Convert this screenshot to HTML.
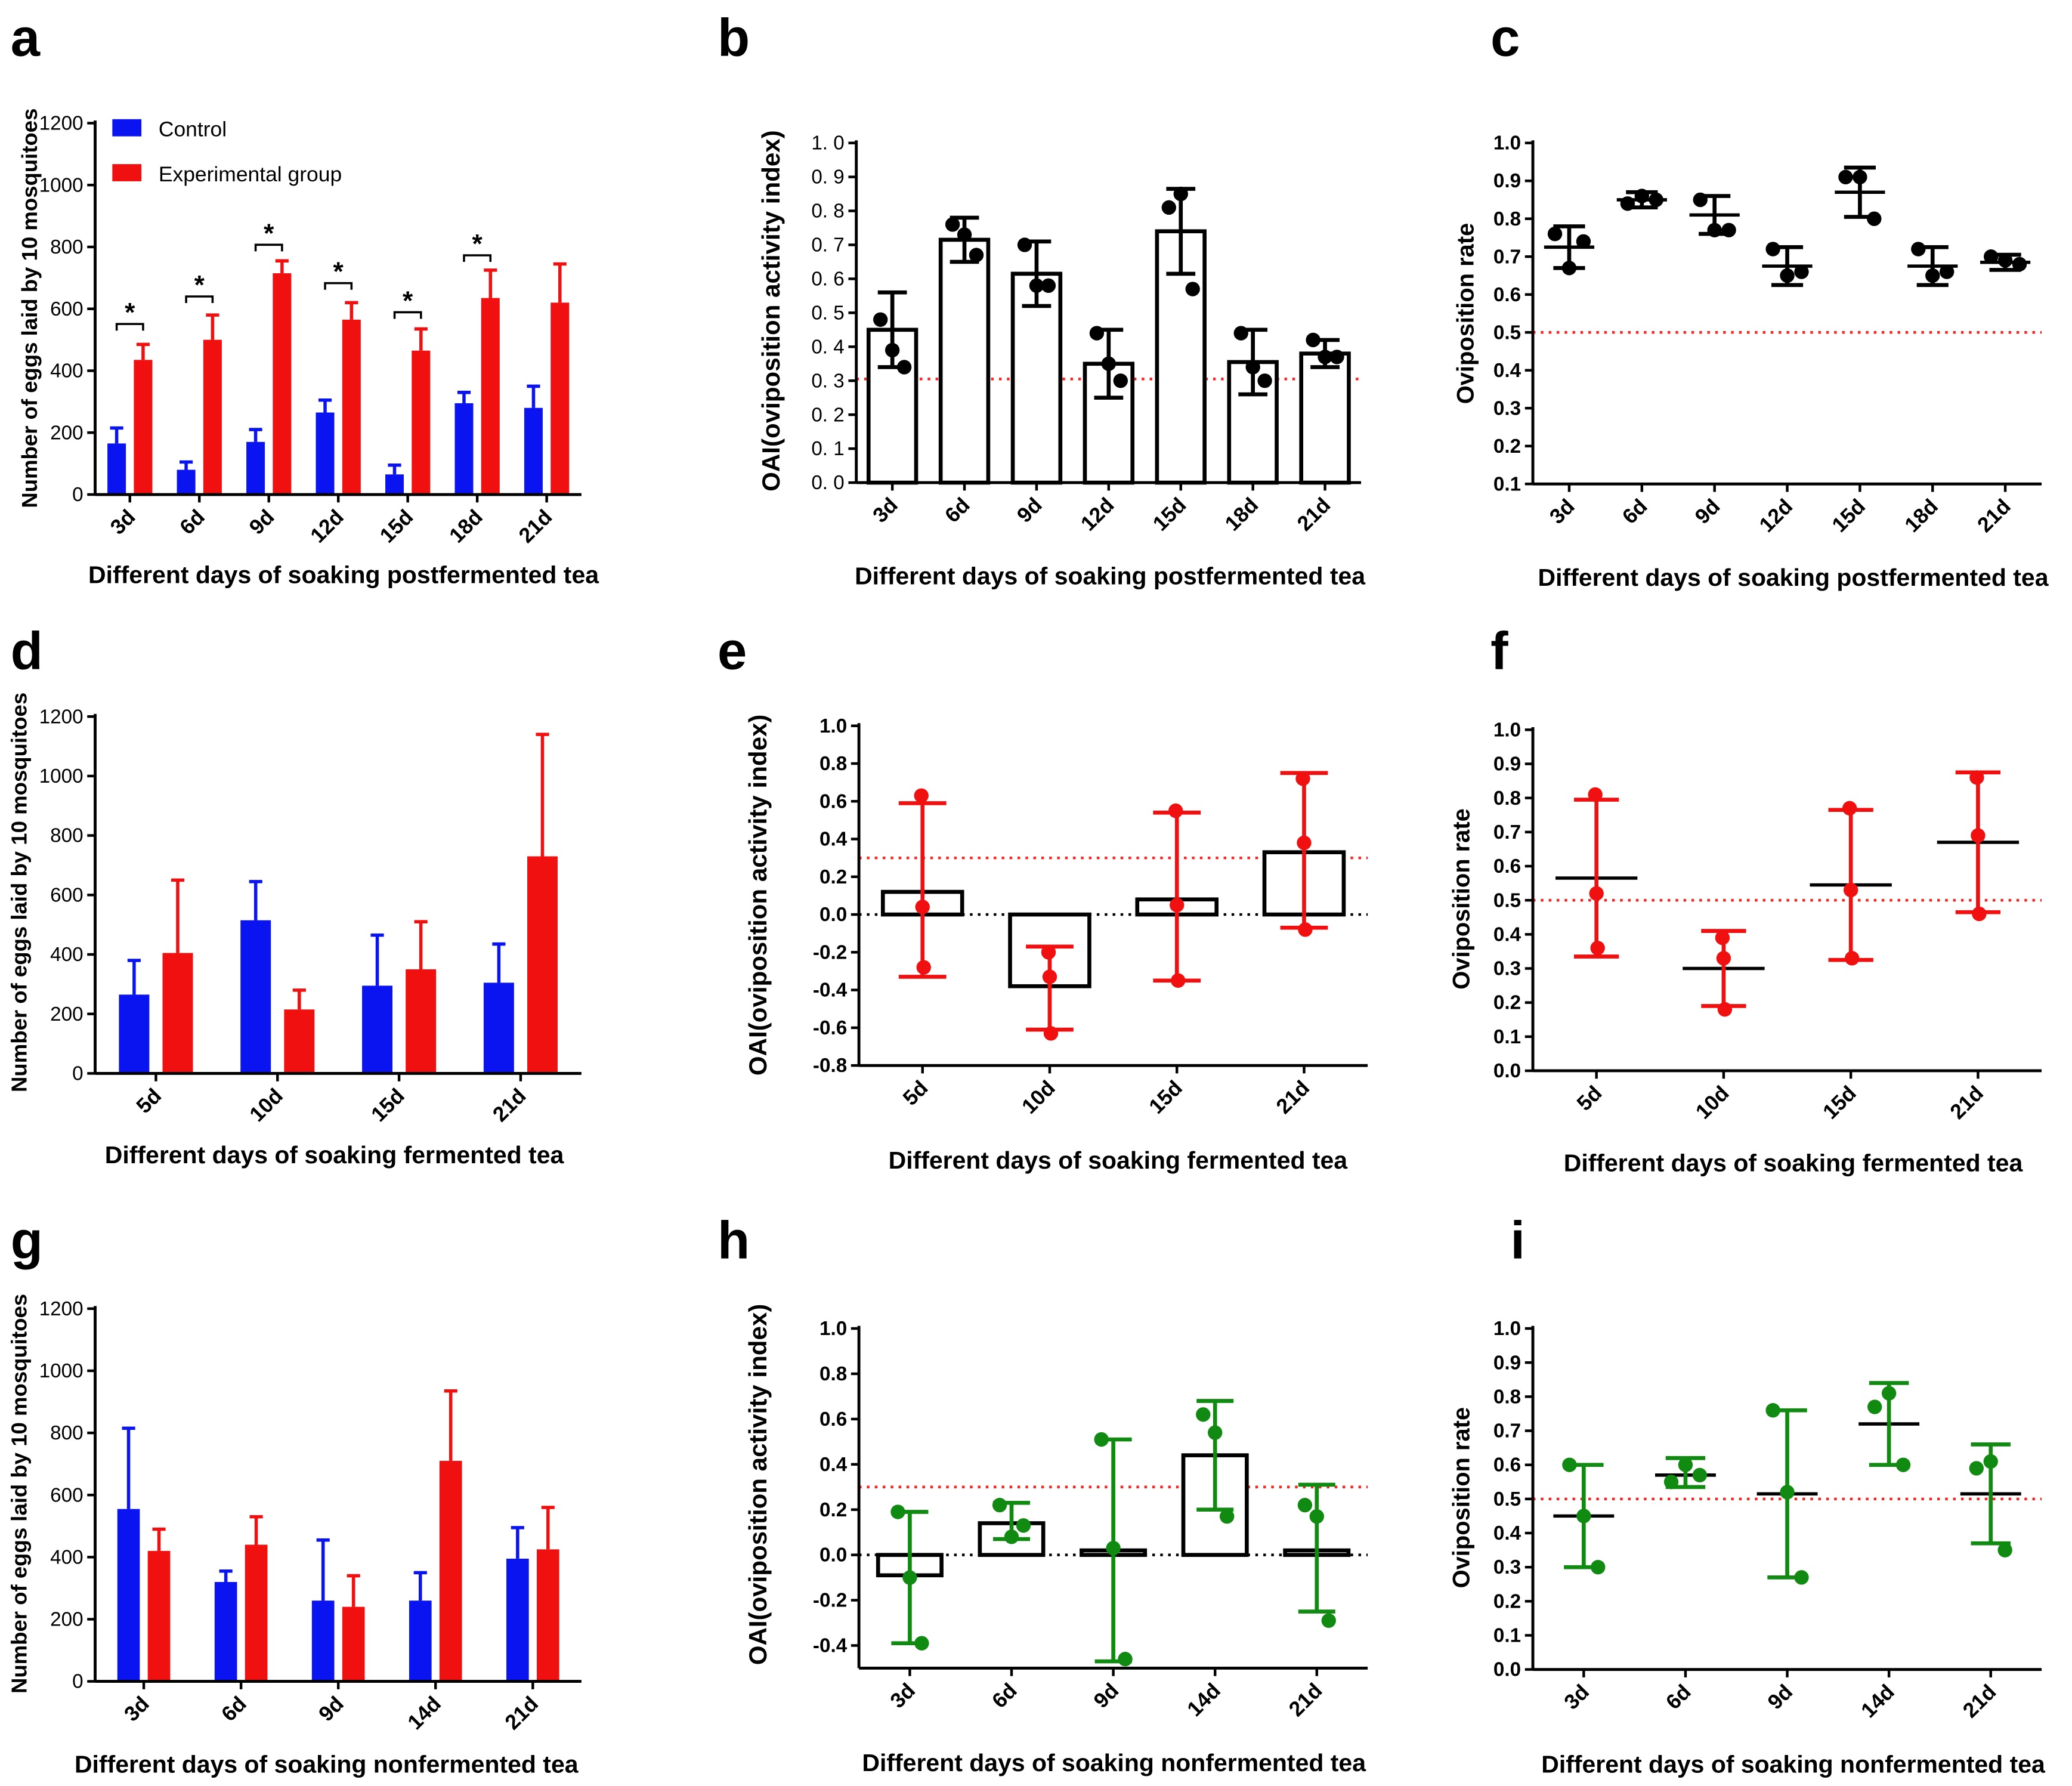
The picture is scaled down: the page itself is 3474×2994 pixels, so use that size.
<!DOCTYPE html>
<html><head><meta charset="utf-8">
<style>
html,body{margin:0;padding:0;background:#fff;}
svg{display:block;}
text{font-family:"Liberation Sans",Arial,sans-serif;}
</style></head>
<body>
<svg id="fig" width="3474" height="2994" viewBox="0 0 1568 1351" xmlns="http://www.w3.org/2000/svg"></svg>
<script>
// ---------- Panel a data ----------
const aCats=["3d","6d","9d","12d","15d","18d","21d"];
const aCtrl=[165,80,170,265,65,295,280];
const aCtrlErr=[215,105,210,305,95,330,350];
const aExp=[435,500,715,565,465,635,620];
const aExpErr=[485,580,755,620,535,725,745];
const aSig=[551,640,807,683,589,773];
const aTicks=[0,200,400,600,800,1000,1200];
// ---------- Panel d data ----------
const dCats=["5d","10d","15d","21d"];
const dCtrl=[265,515,295,305];
const dCtrlErr=[380,645,465,435];
const dExp=[405,215,350,730];
const dExpErr=[650,280,510,1140];
// ---------- Panel g data ----------
const gCats=["3d","6d","9d","14d","21d"];
const gCtrl=[555,320,260,260,395];
const gCtrlErr=[815,355,455,350,495];
const gExp=[420,440,240,710,425];
const gExpErr=[490,530,340,935,560];
// ---------- Panel b data ----------
const bCats=["3d","6d","9d","12d","15d","18d","21d"];
const bMean=[0.45,0.715,0.615,0.35,0.74,0.355,0.38];
const bHi=[0.56,0.78,0.71,0.45,0.865,0.45,0.42];
const bLo=[0.34,0.65,0.52,0.25,0.615,0.26,0.34];
const bPts=[[0.48,0.39,0.34],[0.76,0.73,0.67],[0.7,0.58,0.58],[0.44,0.35,0.3],[0.81,0.85,0.57],[0.44,0.34,0.3],[0.42,0.37,0.37]];
const bTicks=[0,0.1,0.2,0.3,0.4,0.5,0.6,0.7,0.8,0.9,1.0];
// ---------- Panel c data ----------
const cCats=["3d","6d","9d","12d","15d","18d","21d"];
const cMean=[0.725,0.85,0.81,0.675,0.87,0.675,0.685];
const cHi=[0.78,0.87,0.86,0.725,0.935,0.725,0.705];
const cLo=[0.67,0.83,0.76,0.625,0.805,0.625,0.665];
const cPts=[[0.76,0.67,0.74],[0.84,0.86,0.85],[0.85,0.77,0.77],[0.72,0.65,0.66],[0.91,0.91,0.8],[0.72,0.65,0.66],[0.7,0.69,0.68]];
const cTicks=[0.1,0.2,0.3,0.4,0.5,0.6,0.7,0.8,0.9,1.0];
// ---------- Panel e data ----------
const eCats=["5d","10d","15d","21d"];
const eMean=[0.12,-0.38,0.08,0.33];
const eHi=[0.59,-0.17,0.54,0.75];
const eLo=[-0.33,-0.61,-0.35,-0.07];
const ePts=[[0.63,0.04,-0.28],[-0.2,-0.33,-0.63],[0.55,0.05,-0.35],[0.72,0.38,-0.08]];
const eTicks=[-0.8,-0.6,-0.4,-0.2,0,0.2,0.4,0.6,0.8,1.0];
// ---------- Panel f data ----------
const fCats=["5d","10d","15d","21d"];
const fMean=[0.565,0.3,0.545,0.67];
const fHi=[0.795,0.41,0.765,0.875];
const fLo=[0.335,0.19,0.325,0.465];
const fPts=[[0.81,0.52,0.36],[0.39,0.33,0.18],[0.77,0.53,0.33],[0.86,0.69,0.46]];
const fTicks=[0,0.1,0.2,0.3,0.4,0.5,0.6,0.7,0.8,0.9,1.0];
// ---------- Panel h data ----------
const hCats=["3d","6d","9d","14d","21d"];
const hMean=[-0.09,0.14,0.02,0.44,0.02];
const hHi=[0.19,0.23,0.51,0.68,0.31];
const hLo=[-0.39,0.07,-0.47,0.2,-0.25];
const hPts=[[0.19,-0.1,-0.39],[0.22,0.08,0.13],[0.51,0.03,-0.46],[0.62,0.54,0.17],[0.22,0.17,-0.29]];
const hTicks=[-0.4,-0.2,0,0.2,0.4,0.6,0.8,1.0];
// ---------- Panel i data ----------
const iCats=["3d","6d","9d","14d","21d"];
const iMean=[0.45,0.57,0.515,0.72,0.515];
const iHi=[0.6,0.62,0.76,0.84,0.66];
const iLo=[0.3,0.535,0.27,0.6,0.37];
const iPts=[[0.6,0.45,0.3],[0.55,0.6,0.57],[0.76,0.52,0.27],[0.77,0.81,0.6],[0.59,0.61,0.35]];
const iTicks=[0,0.1,0.2,0.3,0.4,0.5,0.6,0.7,0.8,0.9,1.0];

const NS="http://www.w3.org/2000/svg";
const svg=document.getElementById('fig');
function mk(tag,attrs,parent,txt){const e=document.createElementNS(NS,tag);for(const k in attrs)e.setAttribute(k,attrs[k]);if(txt!==undefined)e.textContent=txt;(parent||svg).appendChild(e);return e;}
function scaleY(p){return v=>p.yBot-(v-p.vMin)/(p.vMax-p.vMin)*(p.yBot-p.yTop);}
function scaleX(p,n){const step=(p.x1-p.x0)/n;return i=>p.x0+step*(i+0.5);}

function axes(p,ticks,fmt,cats,xs,ys,g){
  const ax=mk('g',{},g);
  
  
  mk('line',{x1:p.x0,y1:p.yTop-2,x2:p.x0,y2:p.yBot,stroke:'#000','stroke-width':2.2},ax);
  mk('line',{x1:p.x0,y1:p.yBot,x2:p.x1,y2:p.yBot,stroke:'#000','stroke-width':2.2},ax);
  ticks.forEach(t=>{const y=ys(t);
    mk('line',{x1:p.x0-6,y1:y,x2:p.x0,y2:y,stroke:'#000','stroke-width':2},ax);
    const tl=mk('text',{x:p.x0-9,y:y+5,'text-anchor':'end','font-size':p.tfs||15,'font-weight':p.tfw||'normal'},ax,fmt(t));
    
    
  });
  cats.forEach((c,i)=>{const x=xs(i);
    mk('line',{x1:x,y1:p.yBot,x2:x,y2:p.yBot+6,stroke:'#000','stroke-width':2},ax);
    const tl=mk('text',{x:x+5,y:p.yBot+18,'text-anchor':'end','font-size':16,'font-weight':'bold',transform:`rotate(-45 ${x+5} ${p.yBot+18})`},ax,c);
    
    
  });
  const xt=mk('text',{x:p.xtx,y:p.xty,'text-anchor':'middle','font-size':18.5,'font-weight':'bold'},g,p.xtitle);
  
  
  const yt=mk('text',{x:p.ytx,y:p.yty,'text-anchor':'middle','font-size':p.ytfs||16.5,'font-weight':'bold',transform:`rotate(-90 ${p.ytx} ${p.yty})`},g,p.ytitle);
  
  
  const lt=mk('text',{x:p.lx,y:p.ly,'font-size':40,'font-weight':'bold'},g,p.letter);
  
  
}

function barPanel(p,cats,ctrl,ctrlErr,exp,expErr,sig){
  const g=mk('g',{});
  
  
  const ys=scaleY(p),xs=scaleX(p,cats.length);
  const w=p.bw,gap=p.gap;
  cats.forEach((c,i)=>{
    const cx=xs(i);
    [[ctrl,ctrlErr,'#0a14f0',-1],[exp,expErr,'#f01010',1]].forEach(([v,e,col,s])=>{
      const x=s<0?cx-gap/2-w:cx+gap/2;
      const b=mk('rect',{x:x,y:ys(v[i]),width:w,height:ys(0)-ys(v[i]),fill:col},g);
      
      
      const m=x+w/2;
      mk('line',{x1:m,y1:ys(v[i]),x2:m,y2:ys(e[i]),stroke:col,'stroke-width':2.5},g);
      mk('line',{x1:m-5,y1:ys(e[i]),x2:m+5,y2:ys(e[i]),stroke:col,'stroke-width':2.5},g);
    });
    if(sig&&i<sig.length){
      const y=ys(sig[i]),xa=cx-gap/2-w/2,xb=cx+gap/2+w/2;
      const br=mk('path',{d:`M${xa} ${y+5}V${y}H${xb}V${y+5}`,fill:'none',stroke:'#000','stroke-width':1.6},g);
      
      
      mk('text',{x:(xa+xb)/2,y:y-2,'text-anchor':'middle','font-size':20,'font-weight':'bold'},g,'*');
    }
  });
  axes(p,p.ticks,t=>String(t),cats,xs,ys,g);
  return g;
}

function dotPanel(p,cats,mean,hi,lo,pts){
  const g=mk('g',{});
  
  
  const ys=scaleY(p),xs=scaleX(p,cats.length);
  const col=p.col;
  if(p.zeroLine){const zl=mk('line',{x1:p.x0,y1:ys(0),x2:p.x1,y2:ys(0),stroke:'#000','stroke-width':2,'stroke-dasharray':'2 4'},g);
    }
  const rl=mk('line',{x1:p.x0,y1:ys(p.ref),x2:p.x1,y2:ys(p.ref),stroke:'#ff2020','stroke-width':2,'stroke-dasharray':'2 4'},g);
  
  
  const offs=[-9,0,9];
  cats.forEach((c,i)=>{
    const cx=xs(i);
    if(p.bars){
      const y0=ys(0),y1=ys(mean[i]);
      const b=mk('rect',{x:cx-p.bw/2,y:Math.min(y0,y1),width:p.bw,height:Math.abs(y1-y0),fill:'#fff',stroke:'#000','stroke-width':3},g);
      
      
    } else {
      const ml=mk('line',{x1:cx-p.mw/2,y1:ys(mean[i]),x2:cx+p.mw/2,y2:ys(mean[i]),stroke:p.meanCol||col,'stroke-width':2.5},g);
      
      
    }
    const eb=mk('path',{d:`M${cx} ${ys(hi[i])}V${ys(lo[i])}M${cx-p.cw/2} ${ys(hi[i])}H${cx+p.cw/2}M${cx-p.cw/2} ${ys(lo[i])}H${cx+p.cw/2}`,fill:'none',stroke:col,'stroke-width':3},g);
    
    
    pts[i].forEach((v,j)=>{
      const d=mk('circle',{cx:cx+offs[j]*(p.jit||1),cy:ys(v),r:5.5,fill:col},g);
      
      
    });
  });
  axes(p,p.ticks,p.fmt,cats,xs,ys,g);
  return g;
}
const fmtSp=t=>t.toFixed(1).replace('.','. ');
const fmt1=t=>t.toFixed(1);

// a
barPanel({letter:'a',lx:8,ly:42,x0:72,x1:440,yBot:374,yTop:93,vMin:0,vMax:1200,ticks:aTicks,bw:14,gap:6,
  xtitle:'Different days of soaking  postfermented tea',xtx:260,xty:441,ytitle:'Number of eggs laid by 10 mosquitoes',ytx:28,yty:233,tfs:15},
  aCats,aCtrl,aCtrlErr,aExp,aExpErr,aSig);
// legend a
const lg=mk('g',{});


mk('rect',{x:85,y:90,width:22,height:13,fill:'#0a14f0'},lg);
mk('text',{x:120,y:103,'font-size':16},lg,'Control');
mk('rect',{x:85,y:124,width:22,height:13,fill:'#f01010'},lg);
mk('text',{x:120,y:137,'font-size':16},lg,'Experimental group');

// d
barPanel({letter:'d',lx:8,ly:506,x0:72,x1:440,yBot:812,yTop:542,vMin:0,vMax:1200,ticks:aTicks,bw:23,gap:10,
  xtitle:'Different days of soaking fermented tea',xtx:253,xty:880,ytitle:'Number of eggs laid by 10 mosquitoes',ytx:20,yty:675,tfs:15},
  dCats,dCtrl,dCtrlErr,dExp,dExpErr,null);
// g
barPanel({letter:'g',lx:8,ly:952,x0:72,x1:440,yBot:1272,yTop:990,vMin:0,vMax:1200,ticks:aTicks,bw:17,gap:6,
  xtitle:'Different days of soaking nonfermented tea',xtx:247,xty:1341,ytitle:'Number of eggs laid by 10 mosquitoes',ytx:20,yty:1130,tfs:15},
  gCats,gCtrl,gCtrlErr,gExp,gExpErr,null);

// b
dotPanel({letter:'b',lx:543,ly:42,x0:648,x1:1030,yBot:365,yTop:108,vMin:0,vMax:1.0,ticks:bTicks,fmt:fmtSp,bars:true,bw:36,cw:22,col:'#000',ref:0.305,
  xtitle:'Different days of soaking  postfermented tea',xtx:840,xty:442,ytitle:'OAI(oviposition activity index)',ytx:590,yty:235,ytfs:19,tfs:15},
  bCats,bMean,bHi,bLo,bPts);
// c
dotPanel({letter:'c',lx:1128,ly:42,x0:1160,x1:1545,yBot:366,yTop:108,vMin:0.1,vMax:1.0,ticks:cTicks,fmt:fmt1,bars:false,mw:38,cw:24,col:'#000',ref:0.5,tfw:'bold',jit:1.2,
  xtitle:'Different days of soaking  postfermented tea',xtx:1357,xty:443,ytitle:'Oviposition rate',ytx:1115,yty:237,ytfs:18,tfs:15},
  cCats,cMean,cHi,cLo,cPts);
// e
dotPanel({letter:'e',lx:543,ly:506,x0:650,x1:1035,yBot:806,yTop:549,vMin:-0.8,vMax:1.0,ticks:eTicks,fmt:fmt1,bars:true,bw:60,cw:36,col:'#f01010',ref:0.3,zeroLine:true,tfw:'bold',jit:0.1,
  xtitle:'Different days of soaking fermented tea',xtx:846,xty:884,ytitle:'OAI(oviposition activity index)',ytx:580,yty:677,ytfs:19,tfs:15},
  eCats,eMean,eHi,eLo,ePts);
// f
dotPanel({letter:'f',lx:1128,ly:506,x0:1160,x1:1545,yBot:810,yTop:552,vMin:0,vMax:1.0,ticks:fTicks,fmt:fmt1,bars:false,mw:62,cw:34,col:'#f01010',meanCol:'#000',ref:0.5,tfw:'bold',jit:0.1,
  xtitle:'Different days of soaking fermented tea',xtx:1357,xty:886,ytitle:'Oviposition rate',ytx:1112,yty:680,ytfs:18,tfs:15},
  fCats,fMean,fHi,fLo,fPts);
// h
dotPanel({letter:'h',lx:543,ly:952,x0:650,x1:1035,yBot:1262,yTop:1005,vMin:-0.5,vMax:1.0,ticks:hTicks,fmt:fmt1,bars:true,bw:48,cw:28,col:'#108a10',ref:0.3,zeroLine:true,tfw:'bold',jit:1,
  xtitle:'Different days of soaking nonfermented tea',xtx:843,xty:1340,ytitle:'OAI(oviposition activity index)',ytx:580,yty:1123,ytfs:19,tfs:15},
  hCats,hMean,hHi,hLo,hPts);
// i
dotPanel({letter:'i',lx:1143,ly:952,x0:1160,x1:1545,yBot:1263,yTop:1005,vMin:0,vMax:1.0,ticks:iTicks,fmt:fmt1,bars:false,mw:46,cw:30,col:'#108a10',meanCol:'#000',ref:0.5,tfw:'bold',jit:1.2,
  xtitle:'Different days of soaking nonfermented tea',xtx:1357,xty:1341,ytitle:'Oviposition rate',ytx:1112,yty:1133,ytfs:18,tfs:15},
  iCats,iMean,iHi,iLo,iPts);
</script>
</body></html>
